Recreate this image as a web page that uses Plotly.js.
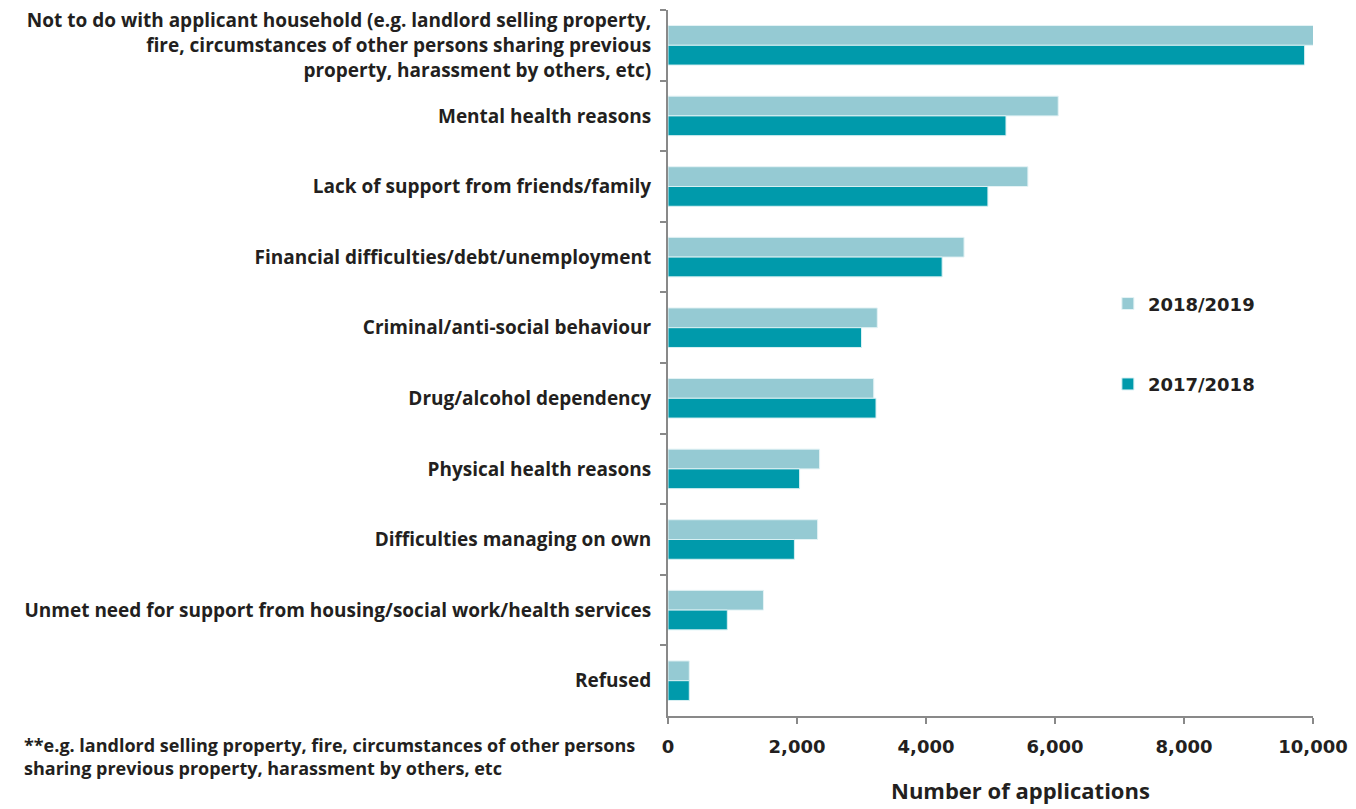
<!DOCTYPE html>
<html>
<head>
<meta charset="utf-8">
<script src="https://cdn.plot.ly/plotly-3.0.1.min.js"></script>
<style>html,body{margin:0;padding:0;background:#fff;}#chart{width:1356px;height:809px;}</style>
</head>
<body>
<div id="chart"></div>
<script>
const categories = [
  "Not to do with applicant household (e.g. landlord selling property,<br>fire, circumstances of other persons sharing previous<br>property, harassment by others, etc)",
  "Mental health reasons",
  "Lack of support from friends/family",
  "Financial difficulties/debt/unemployment",
  "Criminal/anti-social behaviour",
  "Drug/alcohol dependency",
  "Physical health reasons",
  "Difficulties managing on own",
  "Unmet need for support from housing/social work/health services",
  "Refused"
];
const values2018_19 = [10010, 6050, 5580, 4590, 3245, 3190, 2350, 2320, 1480, 330];
const values2017_18 = [9870, 5240, 4960, 4250, 3000, 3225, 2040, 1960, 920, 330];
const xTickValues = [0, 2000, 4000, 6000, 8000, 10000];
const xTickLabels = ["0", "2,000", "4,000", "6,000", "8,000", "10,000"];
const seriesNames = ["2018/2019", "2017/2018"];
const footnoteLines = [
  "**e.g. landlord selling property, fire, circumstances of other persons",
  "sharing previous property, harassment by others, etc"
];
const xAxisTitle = "Number of applications";

const catFont = {family: "Open Sans", size: 19, color: "#231F20", weight: 700};
const numFont = {family: "DejaVu Sans", size: 18, color: "#231F20", weight: 700};

const traces = [
  {
    type: "bar", orientation: "h", name: seriesNames[0], legendgroup: "a",
    y: categories, x: values2018_19,
    marker: {color: "#95CAD3", line: {color: "#E4F3F5", width: 1}},
    hoverinfo: "x+y"
  },
  {
    type: "bar", orientation: "h", name: seriesNames[1], legendgroup: "b",
    y: categories, x: values2017_18,
    marker: {color: "#009AAB", line: {color: "#D8F0F3", width: 1}},
    hoverinfo: "x+y"
  }
];

const layout = {
  width: 1356, height: 809,
  margin: {l: 668, r: 43, t: 10, b: 93},
  paper_bgcolor: "#fff", plot_bgcolor: "#fff",
  barmode: "group", bargap: 0.44, bargroupgap: 0,
  showlegend: true,
  legend: {
    x: 0.682, xanchor: "left", y: 0.61, yanchor: "top",
    traceorder: "grouped", tracegroupgap: 54,
    font: {family: "DejaVu Sans", size: 18, color: "#231F20", weight: 700},
    bgcolor: "rgba(0,0,0,0)"
  },
  xaxis: {
    range: [0, 10000], tickvals: xTickValues, ticktext: xTickLabels,
    showgrid: false, zeroline: false,
    showline: true, linecolor: "#898989", linewidth: 2,
    ticks: "outside", ticklen: 6, tickcolor: "#898989", tickwidth: 2,
    tickfont: numFont, ticklabelstandoff: 7, fixedrange: true
  },
  yaxis: {
    type: "category", autorange: "reversed",
    showgrid: false, zeroline: false,
    showline: true, linecolor: "#898989", linewidth: 2,
    ticks: "outside", ticklen: 6, tickcolor: "#898989", tickwidth: 2,
    tickson: "boundaries",
    tickfont: catFont, ticklabelstandoff: 11, fixedrange: true
  },
  annotations: [
    {xref: "paper", yref: "paper", x: 0.546, y: -0.105, xanchor: "center", yanchor: "middle",
     text: xAxisTitle, showarrow: false,
     font: {family: "Open Sans", size: 22, color: "#231F20", weight: 700}},
    {xref: "paper", yref: "paper", x: -1.0016, y: -0.057, xanchor: "left", yanchor: "middle",
     align: "left", text: footnoteLines.join("<br>"), showarrow: false,
     font: {family: "Open Sans", size: 18, color: "#231F20", weight: 700}}
  ]
};

Plotly.newPlot("chart", traces, layout, {displayModeBar: false, responsive: false});
</script>
</body>
</html>
